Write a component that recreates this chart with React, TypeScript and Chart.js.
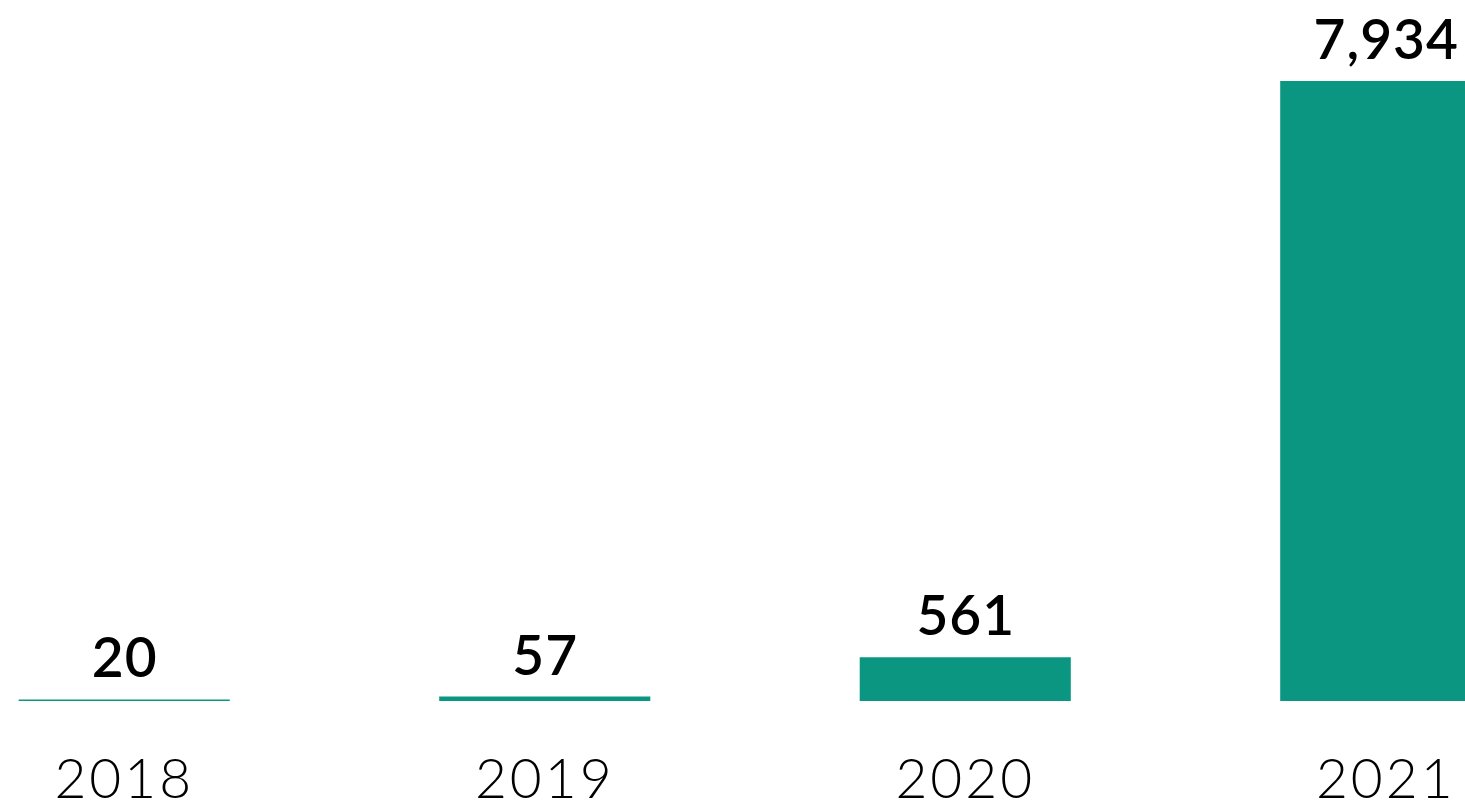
import React, { useEffect, useRef } from "react";
import { Chart, registerables } from "chart.js";

Chart.register(...registerables);

const categories: string[] = ["2018", "2019", "2020", "2021"];
const values: number[] = [20, 57, 561, 7934];

const BAR_COLOR = "#0a9680";
const FONT_FAMILY = "Lato, 'Open Sans', sans-serif";

const spacing = {
  id: "spacing",
  beforeDraw(chart: any) {
    (chart.ctx as any).letterSpacing = "3px";
  },
  afterDraw(chart: any) {
    (chart.ctx as any).letterSpacing = "0px";
  },
};

const valueLabels = {
  id: "valueLabels",
  afterDatasetsDraw(chart: any) {
    const ctx = chart.ctx;
    const meta = chart.getDatasetMeta(0);
    ctx.save();
    (ctx as any).letterSpacing = "1px";
    ctx.font = `600 55px ${FONT_FAMILY}`;
    ctx.fillStyle = "#000000";
    ctx.textAlign = "center";
    ctx.textBaseline = "alphabetic";
    meta.data.forEach((bar: any, i: number) => {
      const v = values[i];
      ctx.fillText(v.toLocaleString("en-US"), bar.x + 0.5, bar.y - 22);
    });
    ctx.restore();
  },
};

export default function App() {
  const canvasRef = useRef<HTMLCanvasElement | null>(null);

  useEffect(() => {
    if (!canvasRef.current) return;
    const chart = new Chart(canvasRef.current, {
      type: "bar",
      data: {
        labels: categories,
        datasets: [
          {
            data: values,
            backgroundColor: BAR_COLOR,
            borderWidth: 0,
            categoryPercentage: 1,
            barPercentage: 0.502,
          },
        ],
      },
      options: {
        animation: false,
        responsive: false,
        devicePixelRatio: 1,
        layout: { padding: 0 },
        plugins: {
          legend: { display: false },
          tooltip: { enabled: false },
          title: { display: false },
        },
        scales: {
          x: {
            grid: { display: false, drawTicks: false },
            border: { display: false },
            ticks: {
              color: "#000000",
              padding: 52,
              maxRotation: 0,
              autoSkip: false,
              font: { family: FONT_FAMILY, size: 55, weight: "300", lineHeight: 1 },
            },
          },
          y: {
            display: false,
            min: 0,
            max: 8970,
            grid: { display: false },
          },
        },
      },
      plugins: [spacing, valueLabels],
    });
    return () => chart.destroy();
  }, []);

  return (
    <div
      style={{
        position: "fixed",
        left: 0,
        top: 0,
        width: 1465,
        height: 804,
        overflow: "hidden",
        background: "#ffffff",
      }}
    >
      <canvas
        ref={canvasRef}
        width={1682}
        height={860}
        style={{ position: "absolute", left: -86, top: 0, width: 1682, height: 860 }}
      />
    </div>
  );
}
